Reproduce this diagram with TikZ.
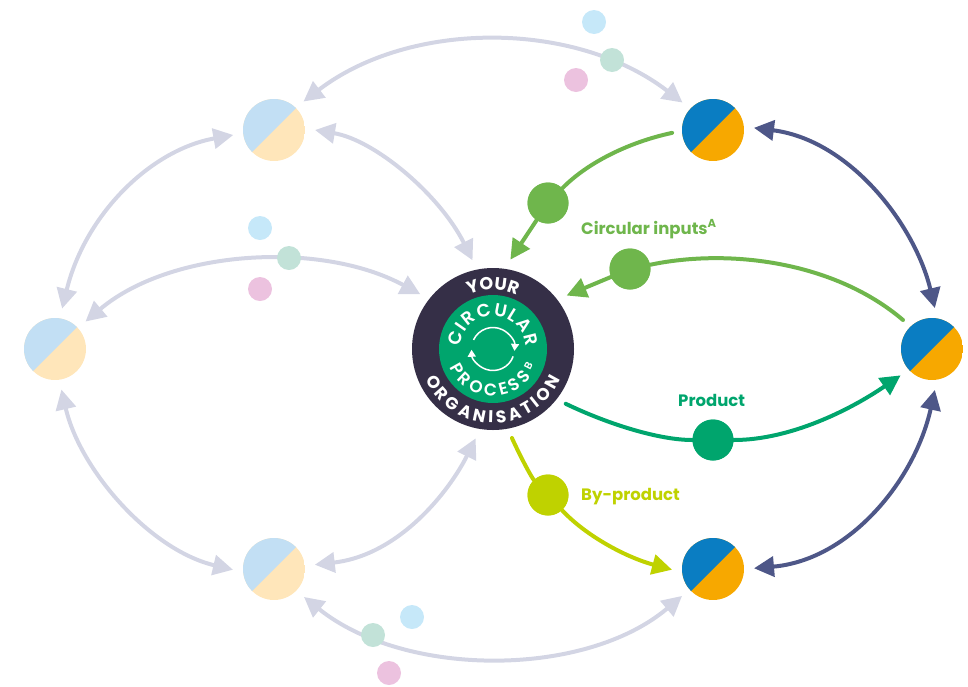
\documentclass[tikz,border=0pt]{standalone}
\usepackage{fontspec}
\setmainfont{Poppins}
\newfontfamily\ringmed{Poppins SemiBold}
\usetikzlibrary{arrows.meta,decorations.text}
\definecolor{cdark}{HTML}{352F47}
\definecolor{cgreen}{HTML}{00A56D}
\definecolor{cleaf}{HTML}{6FB64C}
\definecolor{clime}{HTML}{BFD200}
\definecolor{cnavy}{HTML}{4E5788}
\definecolor{cblue}{HTML}{0A7DC2}
\definecolor{corange}{HTML}{F7A800}
\definecolor{cpale}{HTML}{D3D5E4}
\definecolor{cpblue}{HTML}{C2DFF4}
\definecolor{cporange}{HTML}{FFE6BA}
\definecolor{csblue}{HTML}{C6E8F9}
\definecolor{csgreen}{HTML}{C2E2D8}
\definecolor{cspink}{HTML}{ECC2DF}
\tikzset{
  pie/.style 2 args={circle,minimum size=62pt,inner sep=0pt,outer sep=10pt,
    path picture={
      \fill[#2] (path picture bounding box.south west) rectangle (path picture bounding box.north east);
      \fill[#1] (path picture bounding box.south west) -- (path picture bounding box.north west) -- (path picture bounding box.north east) -- cycle;}},
  lnk/.style={line width=4pt,line cap=round},
  ghost/.style={lnk,draw=cpale,{Triangle[length=20pt,width=20pt,fill=cpale]}-{Triangle[length=20pt,width=20pt,fill=cpale]}},
  navy/.style={lnk,draw=cnavy,{Triangle[length=20pt,width=20pt,fill=cnavy]}-{Triangle[length=20pt,width=20pt,fill=cnavy]}},
  oneway/.style={lnk,draw=#1,-{Triangle[length=20pt,width=20pt,fill=#1]}},
  plain/.style={lnk,draw=#1},
  bigdot/.style={circle,fill=#1,minimum size=41pt,inner sep=0pt},
  smalldot/.style={circle,fill=#1,minimum size=24pt,inner sep=0pt},
  lab/.style={font=\fontsize{16.5}{19}\selectfont\bfseries,anchor=west,inner sep=0pt},
  ringtext/.style={decorate,decoration={text along path,text align=fit to path,text color=white,text={#1}}},
  ringcentre/.style={decorate,decoration={text along path,text align=center,text color=white,text={#1}}},
}
\begin{document}
\begin{tikzpicture}[x=1pt,y=-1pt]
\useasboundingbox (0,0) rectangle (968,686);
% nodes
\node[circle,fill=cdark,minimum size=162pt,inner sep=0pt,outer sep=10pt] (org) at (493,349) {};
\node[circle,fill=cgreen,minimum size=108pt,inner sep=0pt] (proc) at (493,349) {};
\node[pie={cpblue}{cporange}] (tl) at (274,130) {};
\node[pie={cblue}{corange}] (tr) at (713,130) {};
\node[pie={cpblue}{cporange}] (l) at (55,349) {};
\node[pie={cblue}{corange}] (r) at (932,349) {};
\node[pie={cpblue}{cporange}] (bl) at (274,569) {};
\node[pie={cblue}{corange}] (br) at (713,569) {};
% ghost connectors
\draw[ghost] (tl.44) .. controls (410,20) and (575,20) .. (tr.138);
\draw[ghost] (tl.0) .. controls (375,140) and (440,195) .. (org.103);
\draw[ghost] (tl.187) .. controls (150,150) and (85,215) .. (l.80);
\draw[ghost] (l.42) .. controls (170,250) and (320,240) .. (org.143);
\draw[ghost] (l.-81) .. controls (80,470) and (150,550) .. (bl.181);
\draw[ghost] (bl.6) .. controls (400,555) and (450,490) .. (org.-101);
\draw[ghost] (bl.-43) .. controls (405,678) and (585,678) .. (br.221);
% navy connectors
\draw[navy] (tr.3) .. controls (850,140) and (915,225) .. (r.86);
\draw[navy] (r.-86) .. controls (915,480) and (850,560) .. (br.1);
% coloured connectors
\node[bigdot=cleaf] (d1) at (548,203) {};
\node[bigdot=cleaf] (d2) at (630,269) {};
\node[bigdot=cgreen] (d3) at (713,440) {};
\node[bigdot=clime] (d4) at (548,495) {};
\draw[plain=cleaf] (tr.184) .. controls (625,143) and (585,165) .. (d1);
\draw[oneway=cleaf] (d1) -- (org.79);
\draw[plain=cleaf] (r.135) .. controls (835,262) and (730,248) .. (d2);
\draw[oneway=cleaf] (d2) -- (org.36);
\draw[plain=cgreen] (org.-37) .. controls (610,425) and (660,440) .. (d3);
\draw[oneway=cgreen] (d3) .. controls (790,440) and (850,410) .. (r.220);
\draw[plain=clime] (org.-78) .. controls (522,460) and (532,478) .. (d4);
\draw[oneway=clime] (d4) .. controls (585,535) and (625,557) .. (br.181);
% dots redrawn above their lines
\node[bigdot=cleaf] at (d1) {};
\node[bigdot=cleaf] at (d2) {};
\node[bigdot=cgreen] at (d3) {};
\node[bigdot=clime] at (d4) {};
% small dots
\node[smalldot=csblue] (s1) at (594,22) {};
\node[smalldot=csgreen] (s2) at (612,60) {};
\node[smalldot=cspink] (s3) at (576,80) {};
\node[smalldot=csblue] (s4) at (260,228) {};
\node[smalldot=csgreen] (s5) at (289,258) {};
\node[smalldot=cspink] (s6) at (260,289) {};
\node[smalldot=csblue] (s7) at (412,617) {};
\node[smalldot=csgreen] (s8) at (373,635) {};
\node[smalldot=cspink] (s9) at (389,673) {};
% labels
\node[lab,text=cleaf] (t1) at (581,229) {Circular inputs\textsuperscript{A}};
\node[lab,text=cgreen] (t2) at (678,400) {Product};
\node[lab,text=clime] (t3) at (581,497) {By-product};
% ring text
\begin{scope}[shift={(493,349)},x=1pt,y=1pt]
\path[ringcentre={|\fontsize{17.5}{20}\selectfont\bfseries|YOUR}] (170:59) arc (170:10:59);
\path[ringtext={|\fontsize{17}{20}\selectfont\bfseries|ORGANISATION}] (204:74) arc (204:336:74);
\path[ringtext={|\fontsize{18}{20}\selectfont\ringmed|CIRCULAR}] (176:33) arc (176:4:33);
\path[ringtext={|\fontsize{17}{20}\selectfont\ringmed|PROCESS}] (203:47) arc (203:324:47);
\node[text=white,rotate=63,inner sep=0pt,font=\fontsize{10.5}{12}\selectfont\ringmed] (sup) at (-25:39) {B};
\draw[white,line width=1.5pt,-{Triangle[length=7pt,width=8pt]}] (155:21.5) arc (155:-5:21.5);
\draw[white,line width=1.5pt,-{Triangle[length=7pt,width=8pt]}] (-20:21.5) arc (-20:-178:21.5);
\end{scope}
\end{tikzpicture}
\end{document}
